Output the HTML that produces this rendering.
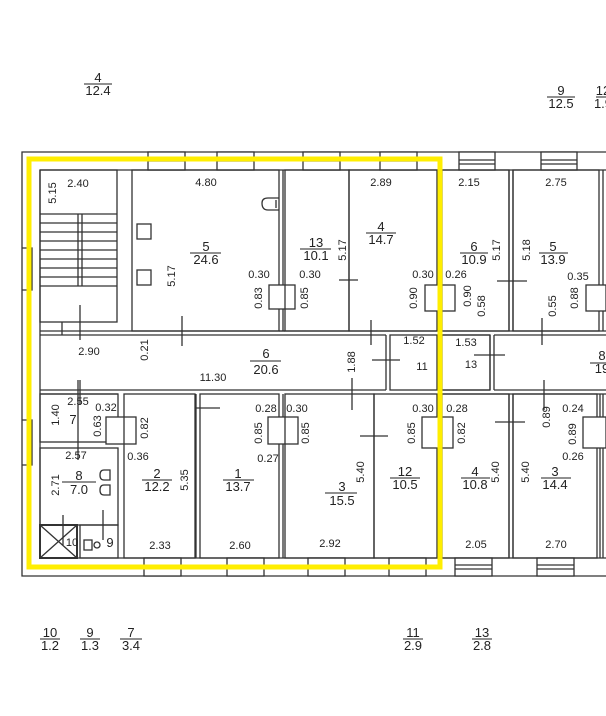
<!DOCTYPE html>
<html><head><meta charset="utf-8"><style>
html,body{margin:0;padding:0;background:#fff;}
svg{display:block;}
text{font-family:"Liberation Sans",sans-serif;font-size:11px;fill:#222;}
.b{font-size:13px;}
</style></head><body>
<svg width="606" height="716" viewBox="0 0 606 716" xmlns="http://www.w3.org/2000/svg">
<g stroke="#333" stroke-width="1.3" fill="none">
<path d="M606 152 H22 V576 H606"/>
<path d="M40 170 V558 M40 170 H606 M40 558 H606"/>
<g fill="#fff">
<rect x="148" y="152" width="37" height="18"/><rect x="217" y="152" width="37" height="18"/>
<rect x="303" y="152" width="37" height="18"/><rect x="380" y="152" width="37" height="18"/>
<rect x="459" y="152" width="36" height="18"/><rect x="541" y="152" width="36" height="18"/>
<rect x="144" y="558" width="37" height="18"/><rect x="227" y="558" width="37" height="18"/>
<rect x="308" y="558" width="37" height="18"/><rect x="389" y="558" width="37" height="18"/>
<rect x="455" y="558" width="37" height="18"/><rect x="537" y="558" width="37" height="18"/>
</g>
<path d="M148 161H185M217 161H254M303 161H340M380 161H417M459 160H495M459 164H495M541 160H577M541 164H577M144 567H181M227 567H264M308 567H345M389 567H426M455 565H492M455 569H492M537 565H574M537 569H574"/>
<path d="M22 248 H32 V290 H22 M22 420 H32 V465 H22"/>
<rect x="40" y="170" width="77" height="152"/>
<path d="M40 214H117M40 223H117M40 232H117M40 241H117M40 250H117M40 259H117M40 268H117M40 277H117M40 286H117"/>
<path d="M78 214V286M82 214V286M80 305V340M62 322V335M80 322V335"/>
<rect x="132" y="170" width="147" height="161"/>
<rect x="137" y="224" width="14" height="15"/><rect x="137" y="270" width="14" height="15"/>
<path d="M268 198 H279 M268 198 Q262 198 262 203 Q262 210 268 210 H279 M276 200V208"/>
<path d="M283 170V331 M279 331 H285"/>
<rect x="269" y="285" width="26" height="24" fill="#fff"/>
<rect x="285" y="170" width="64" height="161"/>
<rect x="349" y="170" width="88" height="161"/>
<path d="M339 280H358 M371 320V345"/>
<rect x="425" y="285" width="30" height="26" fill="#fff"/>
<rect x="442" y="170" width="67" height="161"/>
<path d="M509 170V331M513 170V331"/>
<rect x="513" y="170" width="86" height="161"/>
<path d="M603 170V331"/>
<rect x="586" y="285" width="20" height="26" fill="#fff"/>
<path d="M497 281H527M542 318V345"/>
<path d="M40 331H437 M40 335H386 M442 331H606 M442 335H490 M494 335H606"/>
<path d="M40 390H386 M40 394H118"/>
<rect x="390" y="335" width="47" height="55"/>
<path d="M386 335V390 M490 335V390 M494 335V390"/>
<rect x="442" y="335" width="48" height="55"/>
<path d="M494 390H606 M494 394H606 M442 390H490 M442 394H509"/>
<path d="M182 316V346 M80 380V405 M372 360H400 M352 378V410 M195 408H220 M474 355H505 M544 380V410"/>
<rect x="40" y="394" width="78" height="48"/>
<rect x="40" y="448" width="78" height="77"/>
<rect x="40" y="525" width="37" height="33" stroke-width="2"/>
<path d="M40 525L77 558M77 525L40 558"/>
<rect x="80" y="525" width="38" height="33"/>
<rect x="84" y="540" width="8" height="10"/><circle cx="97" cy="545" r="3"/>
<path d="M104 470 Q100 470 100 475 Q100 480 104 480 H110 V470 Z M104 485 Q100 485 100 490 Q100 495 104 495 H110 V485 Z M63 515V545 M103 510V540 M78 380V460"/>
<rect x="106" y="417" width="30" height="27" fill="#fff"/>
<rect x="124" y="394" width="71" height="164"/>
<rect x="200" y="394" width="79" height="164"/>
<path d="M196 394V558 M283 394V558"/>
<rect x="268" y="417" width="30" height="27" fill="#fff"/>
<rect x="285" y="394" width="89" height="164"/>
<rect x="374" y="394" width="63" height="164"/>
<path d="M360 436H388"/>
<rect x="422" y="417" width="31" height="31" fill="#fff"/>
<rect x="442" y="394" width="67" height="164"/>
<path d="M509 394V558 M513 394V558 M495 422H525"/>
<rect x="513" y="394" width="84" height="164"/>
<path d="M600 394V558 M603 394V558"/>
<rect x="583" y="417" width="23" height="31" fill="#fff"/>
</g>
<rect x="29" y="159" width="411" height="408" fill="none" stroke="#ffee00" stroke-width="5"/>
<g stroke="#222" stroke-width="1">
<path d="M84 84H112M547 97H575M596 97H606M40 639H60M80 639H100M120 639H142M403 639H423M472 639H492"/>
<path d="M190 253H221M300 249H331M366 233H396M460 253H488M539 253H568M250 361H281M590 363H606M62 482H96M142 480H172M223 480H254M325 493H357M390 478H420M461 478H490M541 478H571"/>
</g>
<g text-anchor="middle">
<text class="b" x="98" y="82">4</text><text class="b" x="98" y="95">12.4</text>
<text class="b" x="561" y="95">9</text><text class="b" x="561" y="108">12.5</text>
<text class="b" x="603" y="95">12</text><text class="b" x="603" y="108">1.9</text>
<text class="b" x="50" y="637">10</text><text class="b" x="50" y="650">1.2</text>
<text class="b" x="90" y="637">9</text><text class="b" x="90" y="650">1.3</text>
<text class="b" x="131" y="637">7</text><text class="b" x="131" y="650">3.4</text>
<text class="b" x="413" y="637">11</text><text class="b" x="413" y="650">2.9</text>
<text class="b" x="482" y="637">13</text><text class="b" x="482" y="650">2.8</text>
<text x="78" y="187">2.40</text>
<text class="b" x="206" y="251">5</text><text class="b" x="206" y="264">24.6</text>
<text x="206" y="186">4.80</text><text x="259" y="278">0.30</text>
<text class="b" x="316" y="247">13</text><text class="b" x="316" y="260">10.1</text>
<text x="310" y="278">0.30</text>
<text class="b" x="381" y="231">4</text><text class="b" x="381" y="244">14.7</text>
<text x="381" y="186">2.89</text><text x="423" y="278">0.30</text><text x="456" y="278">0.26</text>
<text class="b" x="474" y="251">6</text><text class="b" x="474" y="264">10.9</text><text x="469" y="186">2.15</text>
<text class="b" x="553" y="251">5</text><text class="b" x="553" y="264">13.9</text><text x="556" y="186">2.75</text>
<text x="578" y="280">0.35</text>
<text x="89" y="355">2.90</text>
<text class="b" x="266" y="358">6</text><text class="b" x="266" y="374">20.6</text>
<text x="213" y="381">11.30</text>
<text x="414" y="344">1.52</text><text x="422" y="370">11</text>
<text x="466" y="346">1.53</text><text x="471" y="368">13</text>
<text class="b" x="602" y="360">8</text><text class="b" x="602" y="373">19</text>
<text x="78" y="405">2.55</text><text x="106" y="411">0.32</text>
<text class="b" x="73" y="424">7</text>
<text x="76" y="459">2.57</text><text x="138" y="460">0.36</text>
<text class="b" x="79" y="480">8</text><text class="b" x="79" y="494">7.0</text>
<text x="72" y="546">10</text><text class="b" x="110" y="547">9</text>
<text class="b" x="157" y="478">2</text><text class="b" x="157" y="491">12.2</text><text x="160" y="549">2.33</text>
<text class="b" x="238" y="478">1</text><text class="b" x="238" y="491">13.7</text><text x="240" y="549">2.60</text>
<text x="266" y="412">0.28</text><text x="297" y="412">0.30</text><text x="268" y="462">0.27</text>
<text class="b" x="342" y="491">3</text><text class="b" x="342" y="505">15.5</text><text x="330" y="547">2.92</text>
<text class="b" x="405" y="476">12</text><text class="b" x="405" y="489">10.5</text>
<text x="423" y="412">0.30</text><text x="457" y="412">0.28</text>
<text class="b" x="475" y="476">4</text><text class="b" x="475" y="489">10.8</text><text x="476" y="548">2.05</text>
<text class="b" x="555" y="476">3</text><text class="b" x="555" y="489">14.4</text><text x="556" y="548">2.70</text>
<text x="573" y="412">0.24</text><text x="573" y="460">0.26</text>
</g>
<g text-anchor="middle">
<text transform="translate(56,193) rotate(-90)">5.15</text>
<text transform="translate(175,276) rotate(-90)">5.17</text>
<text transform="translate(262,298) rotate(-90)">0.83</text>
<text transform="translate(308,298) rotate(-90)">0.85</text>
<text transform="translate(346,250) rotate(-90)">5.17</text>
<text transform="translate(417,298) rotate(-90)">0.90</text>
<text transform="translate(471,296) rotate(-90)">0.90</text>
<text transform="translate(485,306) rotate(-90)">0.58</text>
<text transform="translate(500,250) rotate(-90)">5.17</text>
<text transform="translate(530,250) rotate(-90)">5.18</text>
<text transform="translate(556,306) rotate(-90)">0.55</text>
<text transform="translate(578,298) rotate(-90)">0.88</text>
<text transform="translate(148,350) rotate(-90)">0.21</text>
<text transform="translate(355,362) rotate(-90)">1.88</text>
<text transform="translate(59,415) rotate(-90)">1.40</text>
<text transform="translate(101,426) rotate(-90)">0.63</text>
<text transform="translate(148,428) rotate(-90)">0.82</text>
<text transform="translate(59,485) rotate(-90)">2.71</text>
<text transform="translate(188,480) rotate(-90)">5.35</text>
<text transform="translate(262,433) rotate(-90)">0.85</text>
<text transform="translate(309,433) rotate(-90)">0.85</text>
<text transform="translate(364,472) rotate(-90)">5.40</text>
<text transform="translate(415,433) rotate(-90)">0.85</text>
<text transform="translate(465,433) rotate(-90)">0.82</text>
<text transform="translate(499,472) rotate(-90)">5.40</text>
<text transform="translate(529,472) rotate(-90)">5.40</text>
<text transform="translate(550,417) rotate(-90)">0.89</text>
<text transform="translate(576,434) rotate(-90)">0.89</text>
</g>
</svg>
</body></html>
